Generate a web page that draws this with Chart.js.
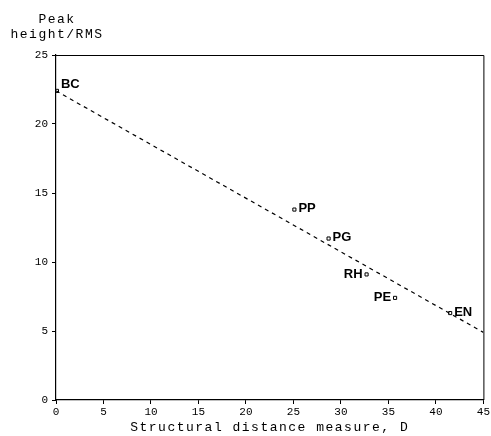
<!DOCTYPE html>
<html><head><meta charset="utf-8">
<script src="https://cdn.jsdelivr.net/npm/chart.js@4/dist/chart.umd.min.js"></script>
<style>html,body{margin:0;padding:0;background:#fff}#wrap{width:491px;height:436px}</style>
</head><body><div id="wrap"><canvas id="c" width="491" height="436"></canvas></div>
<script>
const labels = ["BC","PP","PG","RH","PE","EN"];
const xValues = [0.1, 25.1, 28.7, 32.7, 35.7, 41.5];
const yValues = [22.4, 13.8, 11.7, 9.1, 7.4, 6.3];
const labelSide = ["right","right","right","left","left","right"];
const fitX = [0, 45];
const fitY = [22.4, 4.9];
const xTicks = [0,5,10,15,20,25,30,35,40,45];
const yTicks = [0,5,10,15,20,25];

const mono = "'Liberation Mono', 'DejaVu Sans Mono', monospace";
const sans = "'Liberation Sans', Arial, sans-serif";

const textPlugin = {
  id: 'texts',
  afterDraw(chart) {
    const ctx = chart.ctx, a = chart.chartArea;
    const xs = chart.scales.x, ys = chart.scales.y;
    ctx.save();
    // frame top & right
    ctx.strokeStyle = '#000'; ctx.lineWidth = 1;
    ctx.beginPath();
    ctx.moveTo(a.left, a.top + 0.5); ctx.lineTo(a.right + 0.5, a.top + 0.5); ctx.lineTo(a.right + 0.5, a.bottom);
    ctx.stroke();
    // point labels
    ctx.fillStyle = '#000';
    ctx.font = "bold 13px " + sans;
    ctx.textBaseline = 'middle';
    labels.forEach((t, i) => {
      const px = xs.getPixelForValue(xValues[i]);
      const py = ys.getPixelForValue(yValues[i]);
      if (labelSide[i] === 'right') { ctx.textAlign = 'left'; ctx.fillText(t, px + 4, py - (i === 0 ? 6 : 1)); }
      else { ctx.textAlign = 'right'; ctx.fillText(t, px - 4, py); }
    });
    // titles
    ctx.font = "13px " + mono;
    if ('letterSpacing' in ctx) ctx.letterSpacing = '1.5px';
    ctx.textAlign = 'center'; ctx.textBaseline = 'alphabetic';
    ctx.fillText('Peak', 19 + 38, 23);
    ctx.fillText('height/RMS', 57, 38);
    ctx.fillText('Structural distance measure, D', (a.left + a.right) / 2, 431);
    ctx.restore();
  }
};

new Chart(document.getElementById('c'), {
  type: 'scatter',
  data: {
    datasets: [
      {
        data: fitX.map((x, i) => ({x, y: fitY[i]})),
        showLine: true, borderColor: '#000', borderWidth: 1.2, borderDash: [4, 4],
        pointRadius: 0, fill: false
      },
      {
        data: xValues.map((x, i) => ({x, y: yValues[i]})),
        pointStyle: 'rect', pointRadius: 2.2, borderColor: '#000', borderWidth: 1,
        backgroundColor: '#fff', showLine: false
      }
    ]
  },
  options: {
    responsive: false, animation: false, devicePixelRatio: 1,
    layout: { padding: { top: 55, right: 5, left: 0, bottom: 0 } },
    plugins: { legend: { display: false }, tooltip: { enabled: false } },
    scales: {
      x: {
        type: 'linear', min: 0, max: 45,
        afterBuildTicks: s => { s.ticks = xTicks.map(v => ({value: v})); },
        afterFit: s => { s.height = 36; },
        grid: { display: true, drawOnChartArea: false, tickLength: 4, color: '#000' },
        border: { display: true, color: '#000', width: 1.2 },
        ticks: { color: '#000', font: { family: mono, size: 11 }, padding: 1, maxRotation: 0 }
      },
      y: {
        type: 'linear', min: 0, max: 25,
        afterBuildTicks: s => { s.ticks = yTicks.map(v => ({value: v})); },
        afterFit: s => { s.width = 56; },
        grid: { display: true, drawOnChartArea: false, tickLength: 4, color: '#000' },
        border: { display: true, color: '#000', width: 1.2 },
        ticks: { color: '#000', font: { family: mono, size: 11 }, padding: 4 }
      }
    }
  },
  plugins: [textPlugin]
});
</script>
</body></html>
